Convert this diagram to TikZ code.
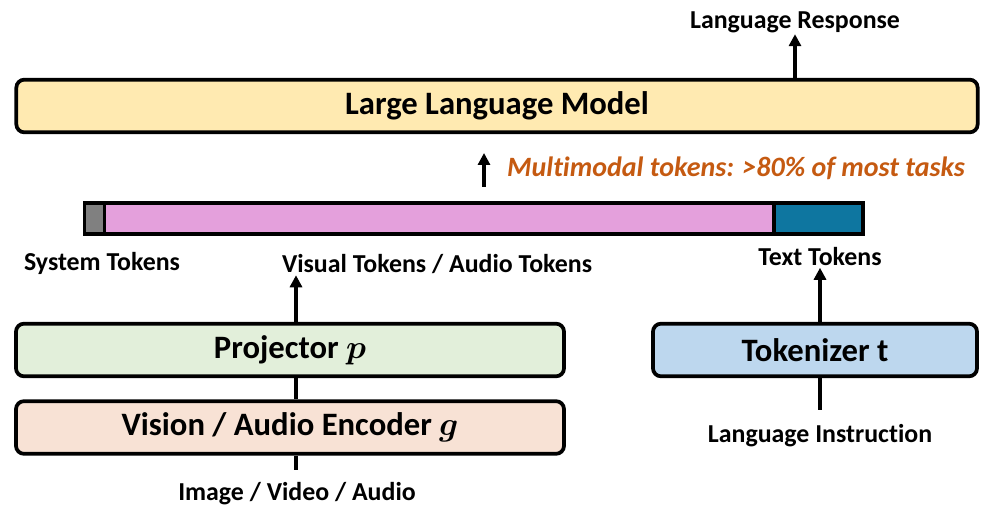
\documentclass[tikz,border=0pt]{standalone}
\usepackage{fontspec}
\setmainfont{Carlito}[Ligatures=NoCommon]
\usepackage{amsmath}
\usetikzlibrary{arrows.meta}

\definecolor{llmfill}{HTML}{FFEAB1}
\definecolor{projfill}{HTML}{E2EFDA}
\definecolor{encfill}{HTML}{F8E2D5}
\definecolor{tokfill}{HTML}{BDD7EE}
\definecolor{sysgray}{HTML}{808080}
\definecolor{vispink}{HTML}{E4A0DC}
\definecolor{txtblue}{HTML}{0E76A0}
\definecolor{noteorange}{HTML}{C55A11}

\tikzset{
  box/.style={draw,line width=2.8pt,rounded corners=6pt,
    font=\fontsize{24.5}{28}\selectfont\bfseries,inner sep=0pt},
  bar/.style={draw,line width=2.8pt,minimum height=23pt,inner sep=0pt,
    outer sep=0pt,anchor=west},
  lbl/.style={font=\fontsize{19.4}{22}\selectfont\bfseries,inner sep=1pt},
  arr/.style={line width=2.4pt,-{Triangle[width=9pt,length=9pt]}},
  link/.style={line width=2.4pt}
}

\begin{document}
\begin{tikzpicture}[x=0.75pt,y=-0.75pt]
    \useasboundingbox (0,0) rectangle (999,516);

    % boxes
    \node[box,fill=llmfill,minimum width=721pt,minimum height=39.5pt] (llm) at (497,106) {Large Language Model};
    \node[box,fill=projfill,minimum width=411pt,minimum height=39.5pt] (proj) at (290,350) {Projector $\boldsymbol{p}$};
    \node[box,fill=encfill,minimum width=411pt,minimum height=39.5pt] (enc) at (290,427.5) {Vision / Audio Encoder $\boldsymbol{g}$};
    \node[box,fill=tokfill,minimum width=243pt,minimum height=39.5pt] (tok) at (815,350) {Tokenizer t};

    % token sequence
    \node[bar,fill=sysgray,minimum width=15pt] (sys) at (84.5,218.5) {};
    \node[bar,fill=vispink,minimum width=502pt] (vis) at (sys.east) {};
    \node[bar,fill=txtblue,minimum width=67pt] (txt) at (vis.east) {};

    % labels
    \node[lbl] (resp) at (795,22) {Language Response};
    \node[lbl,font=\fontsize{21}{24}\selectfont\bfseries\itshape,text=noteorange] (note) at (736,168) {Multimodal tokens: >80\% of most tasks};
    \node[lbl] (syslbl) at (102,263) {System Tokens};
    \node[lbl] (vislbl) at (437,264) {Visual Tokens / Audio Tokens};
    \node[lbl] (txtlbl) at (820,257) {Text Tokens};
    \node[lbl] (img) at (297,494) {Image / Video / Audio};
    \node[lbl] (instr) at (820,436) {Language Instruction};

    \coordinate (notefoot) at (484,187);
    \coordinate (notetip) at (484,153);
    \coordinate (imgtop) at (296,470);
    \coordinate (instrtop) at (820,410);

    % connectors
    \draw[arr] (llm.north -| resp) -- (resp.south);
    \draw[arr] (notefoot) -- (notetip);
    \draw[arr] (proj.north -| imgtop) -- (imgtop |- vislbl.south);
    \draw[arr] (tok.north -| instrtop) -- (instrtop |- txtlbl.south);
    \draw[link] (proj.south -| imgtop) -- (enc.north -| imgtop);
    \draw[link] (enc.south -| imgtop) -- (imgtop);
    \draw[link] (tok.south -| instrtop) -- (instrtop);
\end{tikzpicture}
\end{document}
